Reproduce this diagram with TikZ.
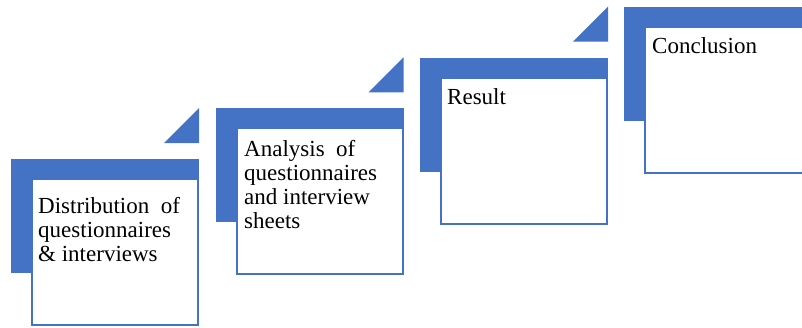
\documentclass[tikz,border=0pt]{standalone}
\usepackage{fontspec}
\setmainfont{Liberation Serif}
\definecolor{accent}{HTML}{4472C4}
\begin{document}
\begin{tikzpicture}[x=1pt,y=-1pt,
  bluebar/.style={fill=accent},
  whitebox/.style={draw=accent,fill=white,line width=2pt},
  steptext/.style={anchor=base west,inner sep=0pt,font=\fontsize{23}{24}\selectfont}]
\useasboundingbox (0,0) rectangle (802,327);
\clip (0,0) rectangle (802,327);
\foreach \ox/\oy in {11/159,215.5/108.3,420/57.6,624/7} {
  \fill[bluebar] (\ox,\oy) rectangle ++(188,114);
  \draw[whitebox] (\ox+21,\oy+20) rectangle (\ox+187,\oy+166);
  \fill[bluebar] (\ox+153,\oy-16) -- (\ox+188,\oy-51) -- (\ox+188,\oy-16) -- cycle;
}
\node[steptext] (t1) at (38,213) {\parbox[t]{160pt}{\raggedright Distribution\ \ of\\questionnaires\\\&~interviews}};
\node[steptext] (t2) at (244,156) {\parbox[t]{160pt}{\raggedright Analysis\ \ of\\questionnaires\\and interview\\sheets}};
\node[steptext] (t3) at (447,104) {\parbox[t]{160pt}{\raggedright Result}};
\node[steptext] (t4) at (652,53) {\parbox[t]{160pt}{\raggedright Conclusion}};
\end{tikzpicture}
\end{document}
